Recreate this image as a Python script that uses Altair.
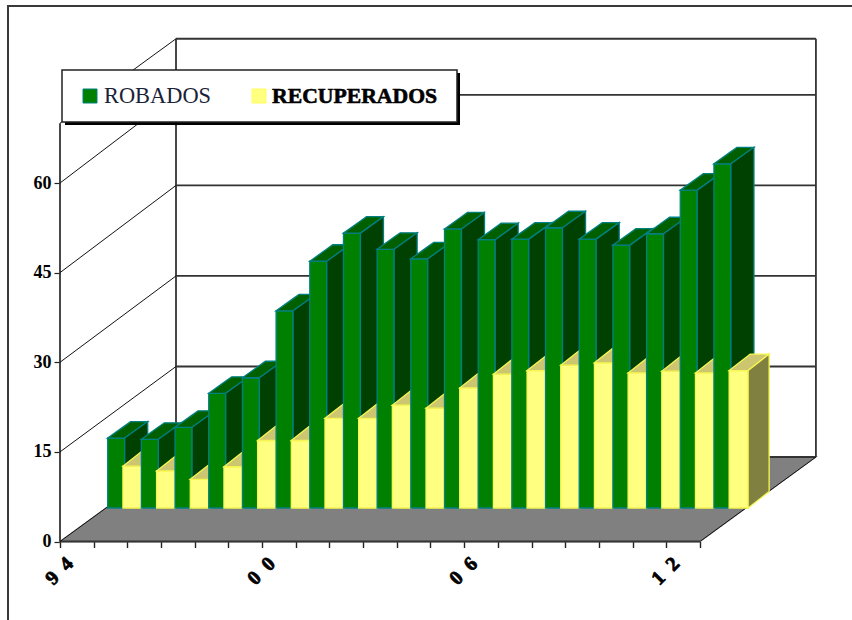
import altair as alt
import pandas as pd

# Yearly series, read as values above the bar base
robados = [11.7, 11.5, 13.5, 19.2, 21.8, 33.0, 41.3, 46.0, 43.3, 41.7,
           46.7, 44.9, 45.0, 46.9, 45.0, 44.0, 45.9, 53.2, 57.6]
recuperados = [7.0, 6.2, 4.8, 6.9, 11.3, 11.3, 15.0, 15.0, 17.2, 16.7,
               20.1, 22.4, 23.0, 23.9, 24.3, 22.6, 22.9, 22.6, 23.0]
# The wide en space reproduces the loose digit spacing of the year labels
years = ["9\u20024", "0\u20020", "0\u20026", "1\u20022"]
year_slots = [0, 6, 12, 18]
y_ticks = [0, 15, 30, 45, 60]
n_slots = len(robados)

# Oblique projection parameters, in axis units
PX_X, PX_Y = 33.68, 5.975
LEFT, BOTTOM = 60, 541.5
FLOOR_DX, FLOOR_DY = 116 / PX_X, 84.5 / PX_Y
WALL_GAIN = 1.01
BAR_X0, BAR_Y0 = 47.7 / PX_X, 33.5 / PX_Y
GREEN_W, YELLOW_W = 17 / PX_X, 19 / PX_X
YELLOW_SHIFT = 15.2 / PX_X
GREEN_DX, YELLOW_DX = 23 / PX_X, 21 / PX_X
BAR_DY = 16.5 / PX_Y
AXIS_TOP = 70

GREEN = dict(front="#008000", top="#006000", side="#004000", edge="#008080")
YELLOW = dict(front="#FFFF80", top="#CCC670", side="#808040", edge="#F6F650")


def side_rows(name, x0, x1, low0, up0, low1, up1, fill, edge):
    """Face with vertical edges at x0 and x1 joined by straight lines."""
    return [
        dict(face=name, x=x0, y=up0, y2=low0, fill=fill, edge=edge),
        dict(face=name, x=x1, y=up1, y2=low1, fill=fill, edge=edge),
    ]


def top_rows(name, x, w, dx, y, dy, fill, edge):
    """Parallelogram cap of a bar, sampled at each of its corners."""
    def upper(v):
        return y + dy * min(1, (v - x) / dx)

    def lower(v):
        return y + dy * max(0, (v - x - w) / dx)

    return [dict(face=name, x=v, y=upper(v), y2=lower(v), fill=fill, edge=edge)
            for v in sorted({x, x + w, x + dx, x + w + dx})]


def bar_rows(name, x, w, dx, value, pal):
    base = BAR_Y0
    top = base + value
    rows = side_rows(name + "f", x, x + w, base, top, base, top, pal["front"], pal["edge"])
    rows += top_rows(name + "t", x, w, dx, top, BAR_DY, pal["top"], pal["edge"])
    rows += side_rows(name + "s", x + w, x + w + dx, base, top, base + BAR_DY, top + BAR_DY,
                      pal["side"], pal["edge"])
    return rows


# Faces are listed back to front so nearer bars cover the sides of earlier ones
rows = []
for i in range(n_slots):
    x_green = i + BAR_X0
    rows += bar_rows(f"g{i:02d}", x_green, GREEN_W, GREEN_DX, robados[i], GREEN)
    rows += bar_rows(f"y{i:02d}", x_green + YELLOW_SHIFT, YELLOW_W, YELLOW_DX, recuperados[i], YELLOW)
bars = pd.DataFrame(rows)

floor = pd.DataFrame(top_rows("floor", 0, n_slots, FLOOR_DX, 0, FLOOR_DY, "#808080", "#808080"))

wall_heights = [FLOOR_DY + v * WALL_GAIN for v in y_ticks] + [FLOOR_DY + AXIS_TOP]
wall_segments = [dict(x=FLOOR_DX, x2=FLOOR_DX + n_slots, y=h, y2=h) for h in wall_heights]
wall_segments += [dict(x=FLOOR_DX + e, x2=FLOOR_DX + e, y=FLOOR_DY, y2=FLOOR_DY + AXIS_TOP)
                  for e in (0, n_slots)]
wall_segments += [dict(x=0, x2=0, y=0, y2=AXIS_TOP),
                  dict(x=0, x2=n_slots, y=0, y2=0)]
diag_segments = [dict(x=0, x2=FLOOR_DX, y=v, y2=h)
                 for v, h in zip(y_ticks + [AXIS_TOP], wall_heights)]
diag_segments += [dict(x=n_slots, x2=n_slots + FLOOR_DX, y=0, y2=FLOOR_DY)]

x_scale = alt.Scale(domain=[0, 792 / PX_X], nice=False, zero=False)
y_scale = alt.Scale(domain=[0, BOTTOM / PX_Y], nice=False, zero=False)

# Real axes carry the ticks and the value labels
X = alt.X("x:Q", scale=x_scale, title=None, axis=alt.Axis(
    values=list(range(n_slots + 1)), labels=False, domain=False, grid=False,
    tickSize=6, tickColor="#222222", tickWidth=1.4, title=None))
Y = alt.Y("y:Q", scale=y_scale, title=None, axis=alt.Axis(
    values=y_ticks, domain=False, grid=False, tickSize=6, tickColor="#222222",
    tickWidth=1.2, labelFont="Liberation Serif", labelFontWeight="bold",
    labelFontSize=18, labelColor="#000000", labelPadding=3, title=None))


def area_layer(data):
    return alt.Chart(data).mark_area(opacity=1, strokeWidth=1.3).encode(
        x=X, y=Y, y2=alt.Y2("y2:Q"),
        fill=alt.Fill("fill:N", scale=None),
        stroke=alt.Stroke("edge:N", scale=None),
        detail="face:N",
    )


def segment_layer(segments, color, width):
    return alt.Chart(pd.DataFrame(segments)).mark_rule(color=color, strokeWidth=width).encode(
        x=X, x2=alt.X2("x2:Q"), y=Y, y2=alt.Y2("y2:Q"))


year_labels = alt.Chart(pd.DataFrame({
    "x": [s + 0.3 for s in year_slots], "y": [-3.2] * len(years), "label": years,
})).mark_text(angle=315, align="right", baseline="middle", font="Liberation Serif",
              fontWeight="bold", fontSize=20, color="#000000", stroke="#000000",
              strokeWidth=0.8).encode(x=X, y=Y, text="label:N")


def px_x(v):
    return alt.value(v - LEFT)


def box(x0, y0, x1, y1, **style):
    return alt.Chart(pd.DataFrame({"k": [0]})).mark_rect(**style).encode(
        x=px_x(x0), x2=px_x(x1), y=alt.value(y0), y2=alt.value(y1))


def caption(text, x, **style):
    return alt.Chart(pd.DataFrame({"label": [text]})).mark_text(
        align="left", baseline="middle", font="Liberation Serif", **style
    ).encode(x=px_x(x), y=alt.value(96), text="label:N")


frame_top = box(8, 5, 852, 7, fill="#3A3A3A")
frame_left = box(7, 5, 9, 620, fill="#3A3A3A")

legend = [
    box(65, 73, 460, 125, fill="#000000"),
    box(62, 70, 457, 122, fill="#FFFFFF", stroke="#222222", strokeWidth=1.5),
    box(83, 89, 97, 103, fill="#008000", stroke="#008080", strokeWidth=1),
    box(252, 89, 266, 103, fill="#FFFF80", stroke="#FFFF60", strokeWidth=1),
    caption("ROBADOS", 104, fontSize=22.4, color="#1A2238"),
    caption("RECUPERADOS", 272, fontSize=21.7, fontWeight="bold", color="#000000",
            stroke="#000000", strokeWidth=0.6),
]

chart = alt.layer(
    frame_top,
    frame_left,
    area_layer(floor),
    segment_layer(wall_segments, "#333333", 1.8),
    segment_layer(diag_segments, "#111111", 1),
    area_layer(bars),
    year_labels,
    *legend,
).properties(
    width=792, height=BOTTOM,
    padding={"left": LEFT, "top": 0, "right": 0, "bottom": 620 - BOTTOM},
    autosize=alt.AutoSizeParams(type="none"),
    background="#FFFFFF",
).configure_view(stroke=None)

chart.save("out.html", embed_options={"renderer": "svg", "actions": False})
